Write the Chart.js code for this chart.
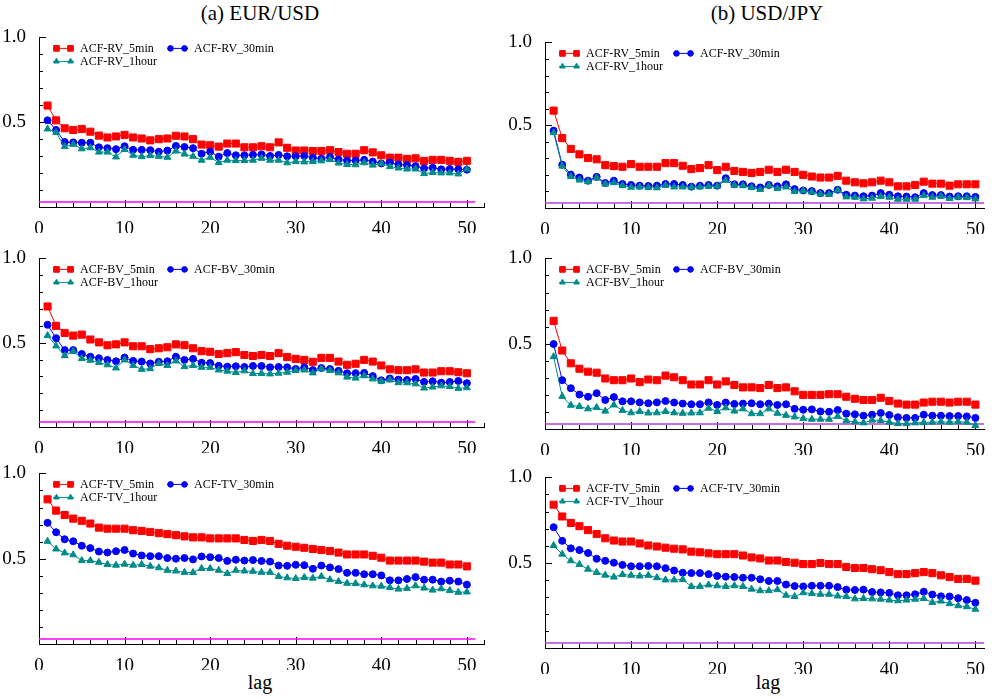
<!DOCTYPE html>
<html>
<head>
<meta charset="utf-8">
<script src="https://cdn.jsdelivr.net/npm/chart.js@4.4.1/dist/chart.umd.min.js"></script>
<style>
  body { margin: 0; background: #fff; font-family: "Liberation Serif", serif; }
  #page { position: relative; width: 998px; height: 699px; overflow: hidden; }
  canvas { position: absolute; }
  .lbl { position: absolute; text-align: center; color: #000; white-space: nowrap; }
  .ttl { font-size: 21px; line-height: 21px; top: 3px; }
  .lag { font-size: 20px; line-height: 20px; top: 672px; }
</style>
</head>
<body>
<div id="page">
  <div class="lbl ttl" style="left:160px;width:200px;">(a) EUR/USD</div>
  <div class="lbl ttl" style="left:667px;width:200px;">(b) USD/JPY</div>
  <div class="lbl lag" style="left:210px;width:100px;">lag</div>
  <div class="lbl lag" style="left:718px;width:100px;">lag</div>
</div>
<script>
// lags on the x axis
var lags = [1,2,3,4,5,6,7,8,9,10,11,12,13,14,15,16,17,18,19,20,21,22,23,24,25,
            26,27,28,29,30,31,32,33,34,35,36,37,38,39,40,41,42,43,44,45,46,47,48,49,50];

// 95% band (flat magenta line)
var bandLevel = 0.03;
var bandLags = [0, 51];

// EUR/USD - RV
var rvEur5  = [0.598,0.511,0.464,0.454,0.460,0.444,0.421,0.410,0.416,0.425,0.410,0.404,0.393,0.400,0.404,0.420,0.416,0.400,0.368,0.364,0.356,0.374,0.374,0.352,0.352,0.358,0.352,0.381,0.349,0.333,0.333,0.330,0.330,0.335,0.324,0.314,0.314,0.335,0.322,0.305,0.291,0.291,0.284,0.287,0.272,0.278,0.278,0.272,0.266,0.272];
var rvEur30 = [0.511,0.454,0.383,0.381,0.379,0.379,0.352,0.347,0.341,0.358,0.337,0.337,0.335,0.326,0.333,0.360,0.354,0.347,0.314,0.326,0.297,0.318,0.305,0.305,0.308,0.310,0.301,0.307,0.299,0.299,0.301,0.291,0.285,0.295,0.280,0.274,0.274,0.278,0.268,0.257,0.262,0.251,0.247,0.241,0.228,0.232,0.222,0.224,0.222,0.220];
var rvEur60 = [0.460,0.439,0.356,0.370,0.343,0.349,0.324,0.324,0.295,0.339,0.305,0.297,0.303,0.299,0.293,0.330,0.312,0.299,0.276,0.293,0.262,0.276,0.274,0.274,0.276,0.287,0.276,0.276,0.261,0.268,0.266,0.268,0.272,0.280,0.259,0.251,0.249,0.261,0.247,0.257,0.238,0.230,0.224,0.224,0.197,0.203,0.201,0.201,0.195,0.224];

// USD/JPY - RV
var rvJpy5  = [0.588,0.422,0.357,0.324,0.302,0.294,0.259,0.253,0.249,0.265,0.249,0.249,0.249,0.271,0.271,0.255,0.235,0.241,0.259,0.229,0.249,0.224,0.218,0.212,0.218,0.231,0.218,0.231,0.218,0.200,0.190,0.184,0.184,0.194,0.165,0.155,0.149,0.155,0.165,0.155,0.131,0.131,0.139,0.159,0.147,0.147,0.135,0.143,0.143,0.143];
var rvJpy30 = [0.467,0.261,0.202,0.184,0.165,0.188,0.151,0.165,0.145,0.139,0.135,0.133,0.135,0.145,0.145,0.139,0.129,0.135,0.139,0.135,0.180,0.143,0.143,0.131,0.124,0.139,0.131,0.143,0.114,0.106,0.102,0.090,0.090,0.110,0.080,0.075,0.071,0.075,0.090,0.080,0.071,0.069,0.065,0.090,0.078,0.078,0.069,0.071,0.071,0.067];
var rvJpy60 = [0.455,0.253,0.190,0.169,0.159,0.182,0.145,0.153,0.135,0.125,0.127,0.124,0.122,0.137,0.127,0.127,0.125,0.127,0.131,0.131,0.167,0.137,0.135,0.124,0.112,0.135,0.118,0.127,0.100,0.104,0.096,0.084,0.082,0.108,0.067,0.065,0.055,0.059,0.069,0.065,0.053,0.053,0.053,0.075,0.065,0.071,0.057,0.065,0.063,0.055];

// EUR/USD - BV
var bvEur5  = [0.715,0.600,0.558,0.542,0.548,0.519,0.502,0.485,0.490,0.502,0.479,0.479,0.462,0.467,0.473,0.490,0.485,0.467,0.450,0.446,0.433,0.438,0.444,0.427,0.421,0.427,0.421,0.438,0.415,0.404,0.398,0.387,0.410,0.410,0.388,0.369,0.375,0.398,0.388,0.365,0.342,0.337,0.337,0.342,0.323,0.323,0.331,0.331,0.325,0.319];
var bvEur30 = [0.606,0.527,0.456,0.456,0.433,0.417,0.408,0.398,0.390,0.412,0.392,0.388,0.377,0.387,0.390,0.417,0.398,0.404,0.381,0.379,0.363,0.358,0.360,0.356,0.362,0.362,0.354,0.356,0.354,0.344,0.354,0.338,0.350,0.344,0.333,0.319,0.319,0.321,0.302,0.277,0.288,0.281,0.279,0.285,0.267,0.271,0.263,0.267,0.273,0.260];
var bvEur60 = [0.542,0.481,0.423,0.450,0.406,0.396,0.383,0.369,0.350,0.398,0.365,0.342,0.346,0.377,0.365,0.392,0.358,0.365,0.354,0.354,0.338,0.331,0.323,0.333,0.317,0.317,0.315,0.319,0.325,0.335,0.338,0.321,0.346,0.335,0.321,0.296,0.290,0.304,0.285,0.271,0.279,0.263,0.262,0.256,0.231,0.237,0.244,0.240,0.229,0.233];

// USD/JPY - BV
var bvJpy5  = [0.634,0.460,0.385,0.353,0.336,0.330,0.296,0.286,0.286,0.296,0.275,0.290,0.286,0.313,0.303,0.286,0.261,0.261,0.286,0.261,0.279,0.258,0.244,0.244,0.240,0.258,0.240,0.244,0.221,0.200,0.200,0.200,0.204,0.204,0.189,0.177,0.170,0.170,0.183,0.164,0.149,0.143,0.143,0.155,0.160,0.160,0.155,0.160,0.160,0.143];
var bvJpy30 = [0.498,0.286,0.239,0.202,0.189,0.210,0.170,0.187,0.162,0.162,0.156,0.151,0.156,0.164,0.155,0.149,0.145,0.145,0.156,0.141,0.155,0.147,0.149,0.151,0.145,0.149,0.141,0.145,0.118,0.113,0.115,0.103,0.101,0.111,0.090,0.086,0.078,0.084,0.094,0.082,0.069,0.065,0.065,0.084,0.078,0.078,0.076,0.076,0.074,0.065];
var bvJpy60 = [0.424,0.191,0.139,0.132,0.118,0.126,0.105,0.141,0.109,0.095,0.103,0.094,0.095,0.103,0.095,0.092,0.094,0.095,0.122,0.103,0.124,0.105,0.118,0.090,0.090,0.118,0.092,0.080,0.071,0.061,0.057,0.057,0.057,0.074,0.048,0.042,0.036,0.052,0.050,0.040,0.032,0.031,0.036,0.038,0.040,0.042,0.040,0.042,0.040,0.021];

// EUR/USD - TV
var tvEur5  = [0.848,0.782,0.756,0.735,0.722,0.706,0.682,0.676,0.676,0.676,0.667,0.663,0.657,0.650,0.644,0.638,0.631,0.625,0.625,0.619,0.619,0.619,0.619,0.610,0.604,0.610,0.604,0.587,0.576,0.570,0.564,0.557,0.551,0.545,0.536,0.525,0.525,0.525,0.517,0.506,0.489,0.489,0.489,0.489,0.483,0.477,0.477,0.466,0.466,0.455];
var tvEur30 = [0.710,0.655,0.614,0.602,0.576,0.562,0.542,0.536,0.544,0.551,0.530,0.519,0.515,0.515,0.504,0.500,0.504,0.496,0.513,0.509,0.504,0.487,0.494,0.489,0.492,0.487,0.483,0.460,0.458,0.464,0.462,0.441,0.460,0.449,0.439,0.417,0.417,0.409,0.409,0.402,0.373,0.373,0.381,0.392,0.377,0.377,0.366,0.371,0.366,0.348];
var tvEur60 = [0.602,0.557,0.534,0.523,0.489,0.489,0.479,0.466,0.462,0.468,0.462,0.466,0.456,0.447,0.432,0.428,0.420,0.419,0.443,0.443,0.432,0.413,0.432,0.428,0.426,0.420,0.420,0.396,0.388,0.384,0.390,0.386,0.396,0.377,0.367,0.356,0.354,0.347,0.341,0.339,0.331,0.322,0.326,0.341,0.328,0.316,0.324,0.314,0.303,0.305];

// USD/JPY - TV
var tvJpy5  = [0.840,0.771,0.733,0.714,0.691,0.668,0.643,0.630,0.624,0.624,0.613,0.601,0.595,0.588,0.582,0.578,0.565,0.561,0.555,0.550,0.550,0.550,0.542,0.531,0.525,0.513,0.513,0.504,0.500,0.492,0.492,0.498,0.492,0.492,0.475,0.469,0.469,0.462,0.456,0.445,0.433,0.433,0.439,0.445,0.439,0.426,0.416,0.405,0.405,0.395];
var tvJpy30 = [0.708,0.628,0.584,0.574,0.557,0.523,0.511,0.500,0.487,0.479,0.479,0.481,0.479,0.468,0.454,0.441,0.439,0.439,0.433,0.422,0.418,0.416,0.412,0.412,0.403,0.393,0.393,0.372,0.363,0.361,0.365,0.365,0.365,0.357,0.342,0.340,0.342,0.328,0.326,0.323,0.309,0.309,0.315,0.330,0.313,0.303,0.302,0.292,0.281,0.265];
var tvJpy60 = [0.601,0.550,0.511,0.490,0.462,0.443,0.427,0.416,0.431,0.426,0.422,0.426,0.412,0.399,0.399,0.401,0.361,0.361,0.370,0.365,0.361,0.365,0.361,0.345,0.336,0.336,0.342,0.309,0.302,0.324,0.319,0.315,0.315,0.305,0.302,0.288,0.290,0.288,0.286,0.281,0.277,0.281,0.286,0.290,0.267,0.275,0.260,0.248,0.242,0.227];

var freqNames = ['5min', '30min', '1hour'];
var yTickLabels = ['0.5', '1.0'];

Chart.defaults.font.family = '"Liberation Serif", serif';
Chart.defaults.color = '#000';

// series look: 5min red squares, 30min blue circles, 1hour teal triangles
var styles = [
  { color: '#ff0000', pointStyle: 'rect',     radius: 5,   order: 2 },
  { color: '#0000ff', pointStyle: 'circle',   radius: 3.5, order: 1 },
  { color: '#008b8b', pointStyle: 'triangle', radius: 4,   order: 0 }
];

var panels = [
  { kind: 'RV', series: [rvEur5, rvEur30, rvEur60], left: 0,   top: 21,  w: 490, h: 212, xMax: 52, padR: 3, band: '#ff00ff' },
  { kind: 'RV', series: [rvJpy5, rvJpy30, rvJpy60], left: 506, top: 26,  w: 484, h: 208, xMax: 51, padR: 2, band: '#b040d8' },
  { kind: 'BV', series: [bvEur5, bvEur30, bvEur60], left: 0,   top: 242, w: 490, h: 211, xMax: 52, padR: 3, band: '#ff00ff' },
  { kind: 'BV', series: [bvJpy5, bvJpy30, bvJpy60], left: 506, top: 242, w: 484, h: 213, xMax: 51, padR: 2, band: '#b040d8' },
  { kind: 'TV', series: [tvEur5, tvEur30, tvEur60], left: 0,   top: 457, w: 490, h: 213, xMax: 52, padR: 3, band: '#ff00ff' },
  { kind: 'TV', series: [tvJpy5, tvJpy30, tvJpy60], left: 506, top: 461, w: 484, h: 213, xMax: 51, padR: 2, band: '#b040d8' }
];

function isHalf(v) {
  return Math.abs(v * 2 - Math.round(v * 2)) < 1e-6;
}

// ticks pointing into the plot, like the original
var innerTicks = {
  id: 'innerTicks',
  beforeDatasetsDraw: function(chart) {
    var ctx = chart.ctx, a = chart.chartArea, sx = chart.scales.x, sy = chart.scales.y;
    ctx.save();
    ctx.strokeStyle = '#000';
    ctx.lineWidth = 1;
    ctx.beginPath();
    sy.ticks.forEach(function(t) {
      if (t.value < 0.05) return;
      var y = Math.round(sy.getPixelForValue(t.value)) + 0.5;
      var len = isHalf(t.value) ? 7 : 4;
      ctx.moveTo(a.left, y);
      ctx.lineTo(a.left + len, y);
    });
    sx.ticks.forEach(function(t) {
      if (t.value <= 0) return;
      var x = Math.round(sx.getPixelForValue(t.value)) + 0.5;
      var len = (t.value % 10 === 0) ? 7 : 4;
      ctx.moveTo(x, a.bottom);
      ctx.lineTo(x, a.bottom - len);
    });
    ctx.stroke();
    ctx.restore();
  }
};

// legend drawn inside the plot: two markers on a short line, then the name
var innerLegend = {
  id: 'innerLegend',
  afterDraw: function(chart) {
    var ctx = chart.ctx, a = chart.chartArea;
    var slots = [[14, 11], [128, 11], [14, 24]];
    ctx.save();
    chart.data.datasets.forEach(function(ds) {
      if (ds.slot === undefined) return;
      var s = slots[ds.slot];
      var x0 = a.left + s[0], y = a.top + s[1];
      ctx.strokeStyle = ds.borderColor;
      ctx.fillStyle = ds.backgroundColor;
      ctx.lineWidth = 1;
      ctx.beginPath();
      ctx.moveTo(x0, y);
      ctx.lineTo(x0 + 21, y);
      ctx.stroke();
      [x0 + 3.5, x0 + 17.5].forEach(function(px) {
        Chart.helpers.drawPoint(ctx, {
          pointStyle: ds.pointStyle, radius: ds.pointRadius * 0.8, rotation: 0, borderWidth: 1
        }, px, y);
      });
      ctx.fillStyle = '#000';
      ctx.font = '12px "Liberation Serif", serif';
      ctx.textBaseline = 'middle';
      ctx.fillText(ds.label, x0 + 27, y + 0.5);
    });
    ctx.restore();
  }
};

var page = document.getElementById('page');

panels.forEach(function(p) {
  var canvas = document.createElement('canvas');
  canvas.width = p.w;
  canvas.height = p.h;
  canvas.style.left = p.left + 'px';
  canvas.style.top = p.top + 'px';
  page.appendChild(canvas);

  var datasets = p.series.map(function(vals, i) {
    var st = styles[i];
    return {
      label: 'ACF-' + p.kind + '_' + freqNames[i],
      data: lags.map(function(l, k) { return { x: l, y: vals[k] }; }),
      showLine: true,
      borderColor: st.color,
      backgroundColor: st.color,
      borderWidth: 1,
      pointStyle: st.pointStyle,
      pointRadius: st.radius,
      pointBorderWidth: 1,
      pointHoverRadius: st.radius,
      order: st.order,
      slot: i
    };
  });

  datasets.push({
    label: 'band',
    data: bandLags.map(function(l) { return { x: l, y: bandLevel }; }),
    showLine: true,
    borderColor: p.band,
    borderWidth: 1.5,
    pointRadius: 0,
    order: 3
  });

  new Chart(canvas.getContext('2d'), {
    type: 'scatter',
    data: { datasets: datasets },
    options: {
      responsive: false,
      animation: false,
      layout: { padding: { top: 12, right: p.padR, bottom: 0, left: 0 } },
      plugins: { legend: { display: false }, tooltip: { enabled: false } },
      scales: {
        x: {
          type: 'linear',
          min: 0,
          max: p.xMax,
          grid: { display: false },
          border: { display: true, color: '#000', width: 1 },
          ticks: {
            stepSize: 2,
            includeBounds: false,
            autoSkip: false,
            maxRotation: 0,
            padding: 3,
            font: { size: 19 },
            callback: function(v) { return v % 10 === 0 ? String(v) : ''; }
          },
          afterFit: function(s) { s.height = 26; }
        },
        y: {
          min: 0,
          max: 1,
          grid: { display: false },
          border: { display: true, color: '#000', width: 1 },
          ticks: {
            stepSize: 0.1,
            autoSkip: false,
            padding: 5,
            font: { size: 19 },
            callback: function(v) {
              if (Math.abs(v - 0.5) < 1e-6) return yTickLabels[0];
              if (Math.abs(v - 1) < 1e-6) return yTickLabels[1];
              return '';
            }
          },
          afterFit: function(s) { s.width = 39; }
        }
      }
    },
    plugins: [innerTicks, innerLegend]
  });
});
</script>
</body>
</html>
